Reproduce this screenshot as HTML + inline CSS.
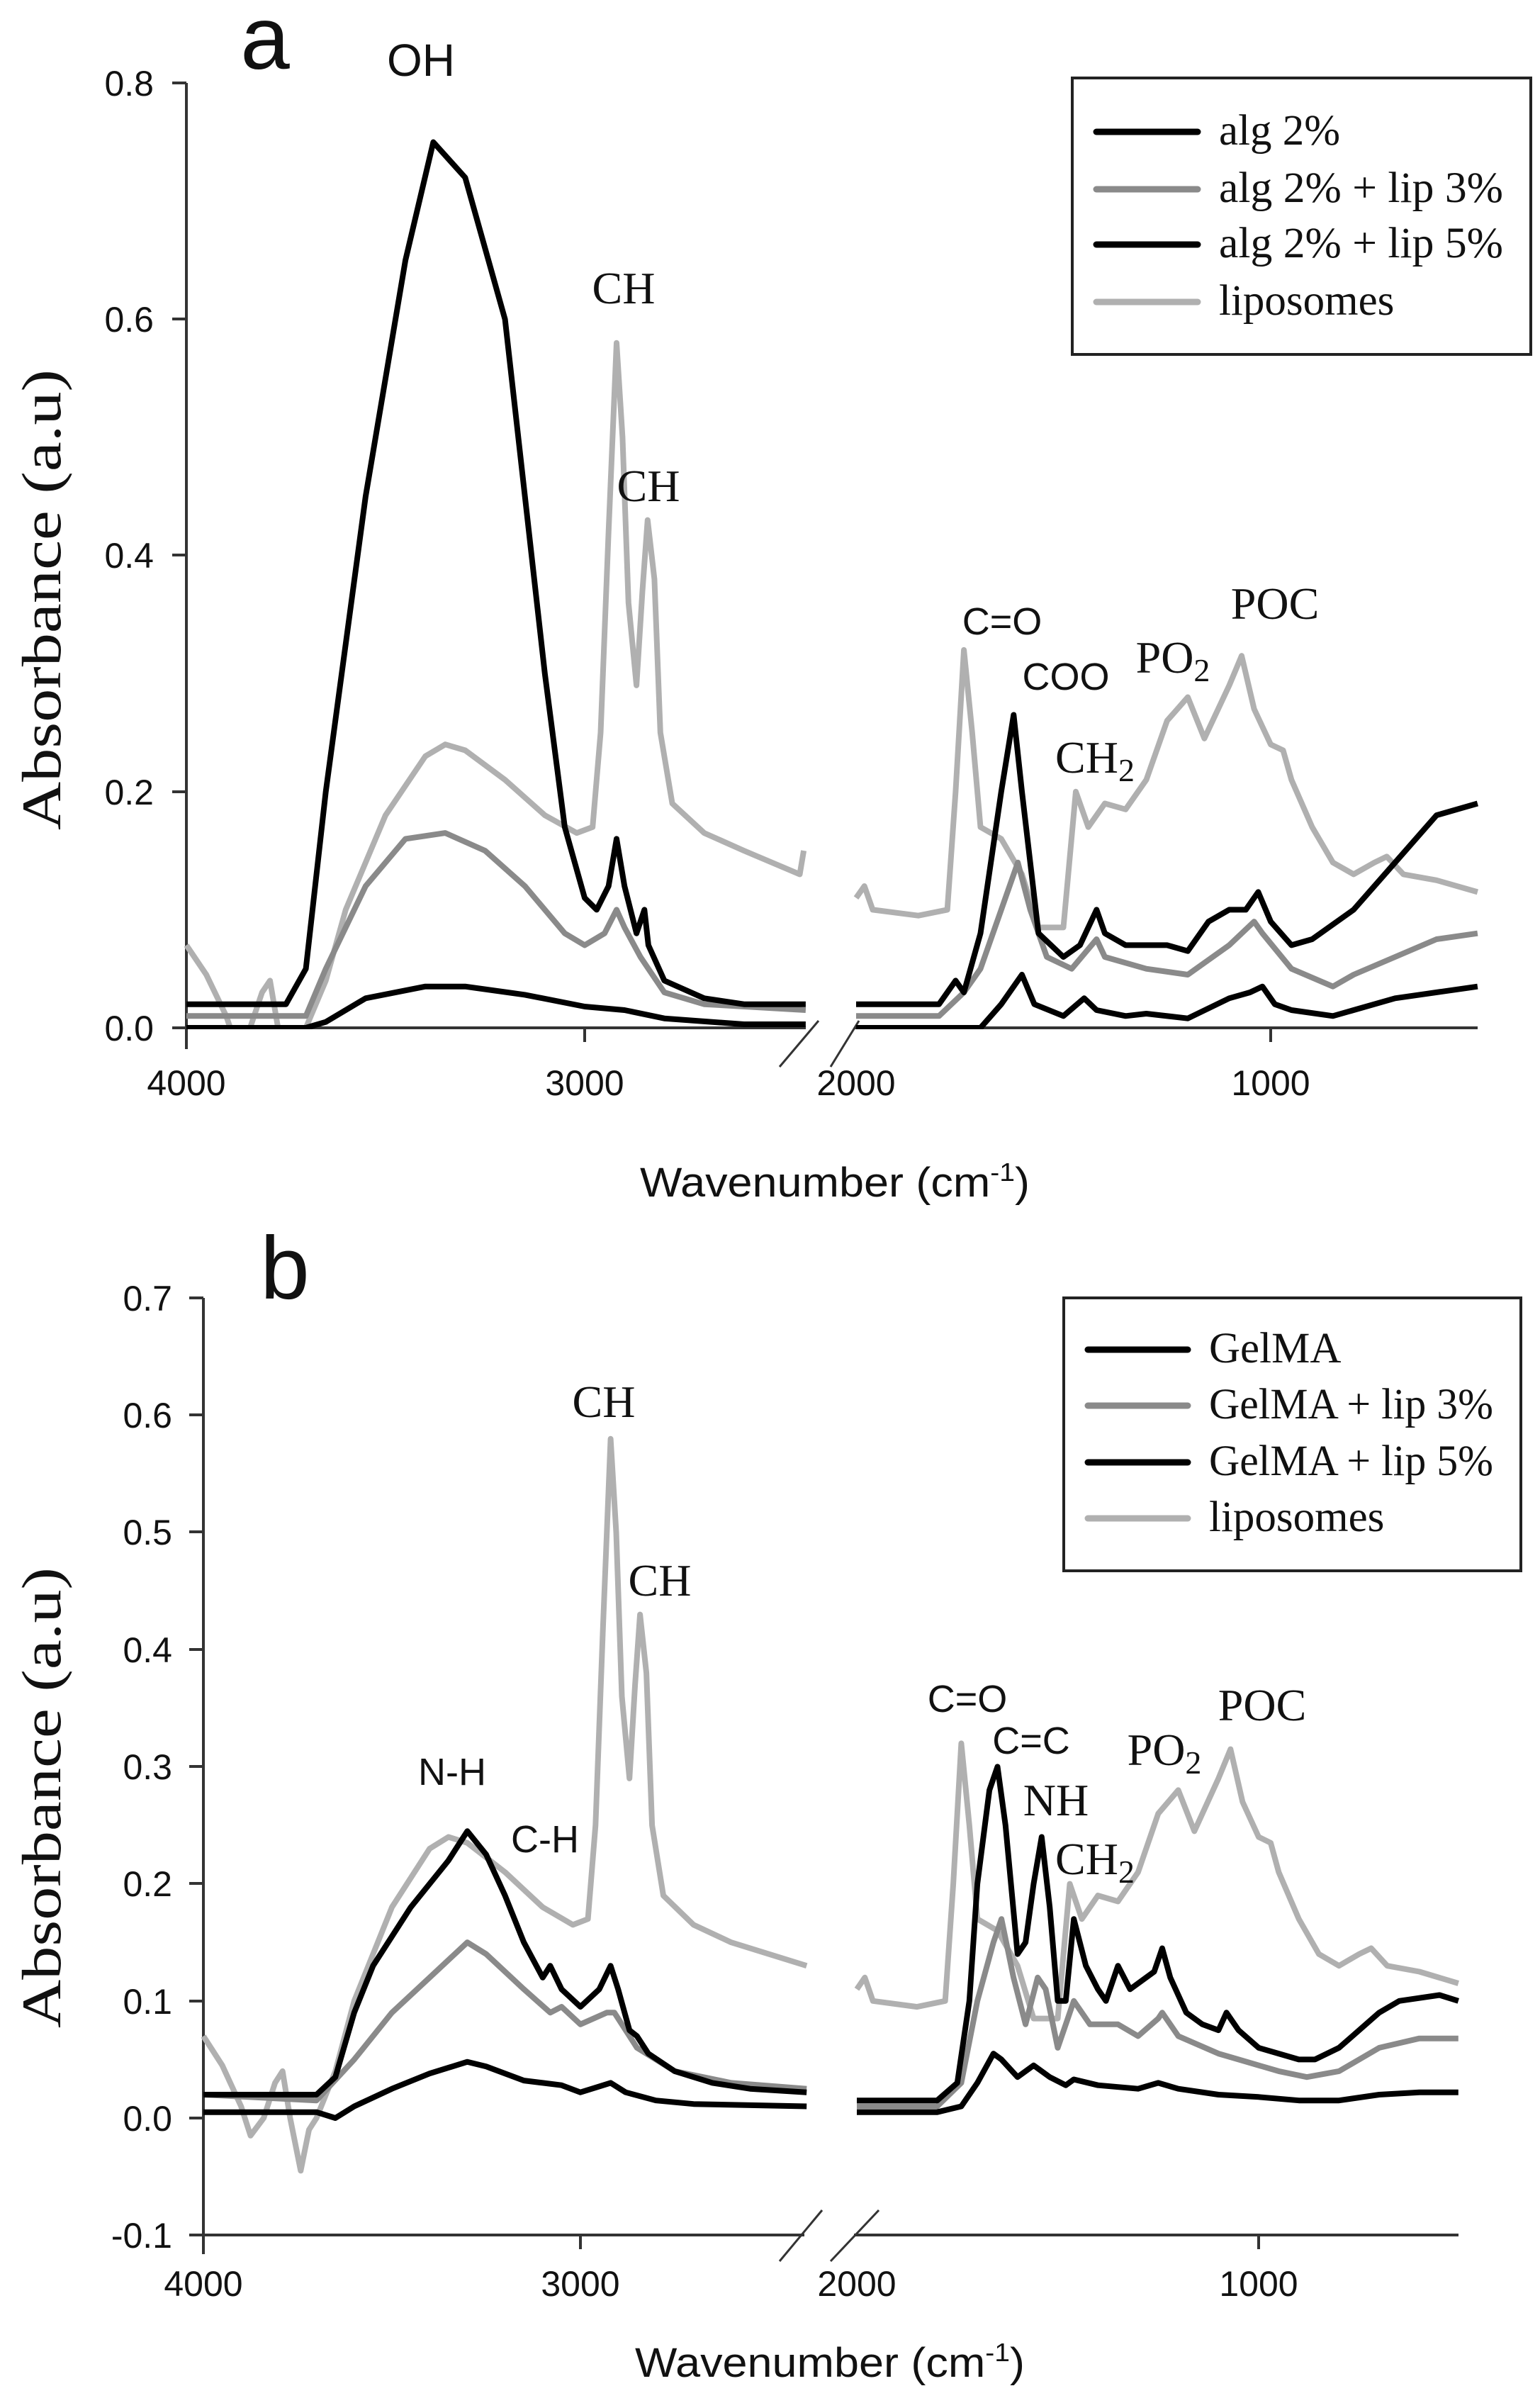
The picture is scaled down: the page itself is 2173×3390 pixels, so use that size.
<!DOCTYPE html>
<html><head><meta charset="utf-8"><style>
html,body{margin:0;padding:0;background:#fff;}
svg{display:block;}
.tk{font-family:"Liberation Sans",sans-serif;font-size:50px;fill:#111;}
.sr{font-family:"Liberation Serif",serif;fill:#111;}
.ss{font-family:"Liberation Sans",sans-serif;fill:#111;}
</style></head><body>
<svg id="s" width="2173" height="3390" viewBox="0 0 2173 3390" xmlns="http://www.w3.org/2000/svg">
<rect width="2173" height="3390" fill="#fff"/>
<defs>
<clipPath id="ca"><rect x="200" y="100" width="1950" height="1352"/></clipPath>
</defs>
<!-- Panel a -->
<g stroke="#333" stroke-width="4" fill="none">
<line x1="263" y1="117" x2="263" y2="1480"/>
<line x1="263" y1="1450" x2="1137" y2="1450"/>
<line x1="1206" y1="1450" x2="2085" y2="1450"/>
<line x1="243" y1="1450" x2="263" y2="1450"/><line x1="243" y1="1117" x2="263" y2="1117"/><line x1="243" y1="783" x2="263" y2="783"/><line x1="243" y1="450" x2="263" y2="450"/><line x1="243" y1="117" x2="263" y2="117"/>
<line x1="825" y1="1450" x2="825" y2="1470"/>
<line x1="1793" y1="1450" x2="1793" y2="1470"/>
<line x1="1100" y1="1505" x2="1155" y2="1440" stroke-width="3"/>
<line x1="1172" y1="1505" x2="1212" y2="1440" stroke-width="3"/>
</g>
<g class="tk" text-anchor="end">
<text x="217" y="1468">0.0</text><text x="217" y="1135">0.2</text><text x="217" y="801">0.4</text><text x="217" y="468">0.6</text><text x="217" y="135">0.8</text>
</g>
<g class="tk" text-anchor="middle">
<text x="263" y="1545">4000</text><text x="825" y="1545">3000</text><text x="1208" y="1545">2000</text><text x="1793" y="1545">1000</text>
</g>
<text class="ss" x="1178" y="1688" font-size="58" text-anchor="middle" textLength="550" lengthAdjust="spacingAndGlyphs">Wavenumber (cm<tspan dy="-22" font-size="36">-1</tspan><tspan dy="22">)</tspan></text>
<text class="sr" transform="translate(85,846) rotate(-90)" font-size="78" text-anchor="middle" textLength="650" lengthAdjust="spacingAndGlyphs">Absorbance (a.u)</text>
<text class="ss" x="374" y="97" font-size="125" text-anchor="middle">a</text>
<text class="ss" x="594" y="107" font-size="64" text-anchor="middle">OH</text>
<g id="ga" clip-path="url(#ca)"></g>
<g class="sr" font-size="64" text-anchor="middle">
<text x="880" y="428">CH</text><text x="915" y="707">CH</text>
<text x="1545" y="1090">CH<tspan font-size="46" dy="12">2</tspan></text>
<text x="1655" y="949">PO<tspan font-size="46" dy="12">2</tspan></text>
<text x="1799" y="873">POC</text>
</g>
<g class="ss" font-size="54" text-anchor="middle">
<text x="1414" y="895">C=O</text><text x="1504" y="973">COO</text>
</g>
<rect x="1513" y="110" width="647" height="390" fill="#fff" stroke="#222" stroke-width="4"/>
<g stroke-width="9" stroke-linecap="round">
<line x1="1547" y1="186" x2="1690" y2="186" stroke="#000"/>
<line x1="1547" y1="267" x2="1690" y2="267" stroke="#8a8a8a"/>
<line x1="1547" y1="345" x2="1690" y2="345" stroke="#000"/>
<line x1="1547" y1="426" x2="1690" y2="426" stroke="#b0b0b0"/>
</g>
<g class="sr" font-size="61">
<text x="1720" y="204">alg 2%</text>
<text x="1720" y="285" textLength="401" lengthAdjust="spacingAndGlyphs">alg 2% + lip 3%</text>
<text x="1720" y="363" textLength="401" lengthAdjust="spacingAndGlyphs">alg 2% + lip 5%</text>
<text x="1720" y="444">liposomes</text>
</g>

<!-- Panel b -->
<g stroke="#333" stroke-width="4" fill="none">
<line x1="287" y1="1831" x2="287" y2="3180"/>
<line x1="287" y1="3153" x2="1135" y2="3153"/>
<line x1="1205" y1="3153" x2="2058" y2="3153"/>
<line x1="267" y1="3153" x2="287" y2="3153"/><line x1="267" y1="2988" x2="287" y2="2988"/><line x1="267" y1="2823" x2="287" y2="2823"/><line x1="267" y1="2657" x2="287" y2="2657"/><line x1="267" y1="2492" x2="287" y2="2492"/><line x1="267" y1="2327" x2="287" y2="2327"/><line x1="267" y1="2161" x2="287" y2="2161"/><line x1="267" y1="1996" x2="287" y2="1996"/><line x1="267" y1="1831" x2="287" y2="1831"/>
<line x1="819" y1="3153" x2="819" y2="3173"/>
<line x1="1776" y1="3153" x2="1776" y2="3173"/>
<line x1="1100" y1="3190" x2="1160" y2="3118" stroke-width="3"/>
<line x1="1172" y1="3190" x2="1240" y2="3118" stroke-width="3"/>
</g>
<g class="tk" text-anchor="end">
<text x="243" y="3171">-0.1</text><text x="243" y="3006">0.0</text><text x="243" y="2841">0.1</text><text x="243" y="2675">0.2</text><text x="243" y="2510">0.3</text><text x="243" y="2345">0.4</text><text x="243" y="2179">0.5</text><text x="243" y="2014">0.6</text><text x="243" y="1849">0.7</text>
</g>
<g class="tk" text-anchor="middle">
<text x="287" y="3239">4000</text><text x="819" y="3239">3000</text><text x="1209" y="3239">2000</text><text x="1776" y="3239">1000</text>
</g>
<text class="ss" x="1171" y="3353" font-size="58" text-anchor="middle" textLength="550" lengthAdjust="spacingAndGlyphs">Wavenumber (cm<tspan dy="-22" font-size="36">-1</tspan><tspan dy="22">)</tspan></text>
<text class="sr" transform="translate(85,2536) rotate(-90)" font-size="78" text-anchor="middle" textLength="650" lengthAdjust="spacingAndGlyphs">Absorbance (a.u)</text>
<text class="ss" x="402" y="1832" font-size="125" text-anchor="middle">b</text>
<g id="gb"></g>
<g class="sr" font-size="64" text-anchor="middle">
<text x="852" y="1999">CH</text><text x="931" y="2251">CH</text>
<text x="1490" y="2561">NH</text>
<text x="1545" y="2644">CH<tspan font-size="46" dy="12">2</tspan></text>
<text x="1643" y="2490">PO<tspan font-size="46" dy="12">2</tspan></text>
<text x="1781" y="2427">POC</text>
</g>
<g class="ss" font-size="54" text-anchor="middle">
<text x="638" y="2518">N-H</text><text x="769" y="2613">C-H</text>
<text x="1365" y="2415">C=O</text><text x="1455" y="2474">C=C</text>
</g>
<rect x="1501" y="1831" width="645" height="385" fill="#fff" stroke="#222" stroke-width="4"/>
<g stroke-width="9" stroke-linecap="round">
<line x1="1535" y1="1904" x2="1676" y2="1904" stroke="#000"/>
<line x1="1535" y1="1983" x2="1676" y2="1983" stroke="#8a8a8a"/>
<line x1="1535" y1="2063" x2="1676" y2="2063" stroke="#000"/>
<line x1="1535" y1="2142" x2="1676" y2="2142" stroke="#b0b0b0"/>
</g>
<g class="sr" font-size="61">
<text x="1706" y="1922">GelMA</text>
<text x="1706" y="2001" textLength="401" lengthAdjust="spacingAndGlyphs">GelMA + lip 3%</text>
<text x="1706" y="2081" textLength="401" lengthAdjust="spacingAndGlyphs">GelMA + lip 5%</text>
<text x="1706" y="2160">liposomes</text>
</g>
</svg>
<script>
(function(){
var NS="http://www.w3.org/2000/svg";
function mk(g,pts,col,P){
  var L=pts[0],R=pts[1];
  function seg(arr,f){var d="";for(var i=0;i<arr.length;i+=2){d+=(i?"L":"M")+f(arr[i]).toFixed(1)+","+(P.y0-arr[i+1]*P.ys).toFixed(1);}return d;}
  var d=seg(L,function(w){return P.lx+(4000-w)*P.lk;})+seg(R,function(w){return P.rx+(2000-w)*P.rk;});
  var p=document.createElementNS(NS,"path");
  p.setAttribute("d",d);p.setAttribute("fill","none");p.setAttribute("stroke",col);
  p.setAttribute("stroke-width","8");p.setAttribute("stroke-linejoin","round");
  g.appendChild(p);
}
var A={lx:263,lk:0.562,rx:1208,rk:0.585,y0:1450,ys:1666};
var B={lx:287,lk:0.532,rx:1209,rk:0.567,y0:2988,ys:1652};
var lipL=[4000,0.07,3950,0.045,3900,0.01,3875,-0.015,3840,0.0,3810,0.03,3790,0.04,3770,0.0,3742,-0.045,3720,-0.01,3700,0.0,3650,0.04,3600,0.1,3500,0.18,3400,0.23,3350,0.24,3300,0.235,3200,0.21,3100,0.18,3020,0.165,2980,0.17,2960,0.25,2940,0.42,2920,0.58,2905,0.5,2890,0.36,2870,0.29,2855,0.37,2842,0.43,2825,0.38,2810,0.25,2780,0.19,2700,0.165,2600,0.15,2460,0.13,2450,0.15];
var lipR=[2000,0.11,1980,0.12,1960,0.1,1850,0.095,1780,0.1,1760,0.2,1740,0.32,1720,0.25,1700,0.17,1650,0.16,1600,0.13,1560,0.085,1500,0.085,1470,0.2,1440,0.17,1400,0.19,1350,0.185,1300,0.21,1250,0.26,1200,0.28,1160,0.245,1100,0.29,1070,0.315,1040,0.27,1000,0.24,970,0.235,950,0.21,900,0.17,850,0.14,800,0.13,750,0.14,720,0.145,680,0.13,600,0.125,501,0.115];
var ga=document.getElementById("ga");
mk(ga,[lipL,lipR],"#b0b0b0",A);
mk(ga,[[4000,0.01,3700,0.01,3650,0.05,3550,0.12,3450,0.16,3350,0.165,3250,0.15,3150,0.12,3050,0.08,3000,0.07,2950,0.08,2920,0.10,2900,0.085,2860,0.06,2840,0.05,2800,0.03,2700,0.02,2445,0.015],
 [2000,0.01,1800,0.01,1740,0.03,1700,0.05,1650,0.1,1610,0.14,1580,0.1,1540,0.06,1480,0.05,1420,0.075,1400,0.06,1300,0.05,1200,0.045,1100,0.07,1040,0.09,1020,0.08,950,0.05,850,0.035,800,0.045,700,0.06,600,0.075,501,0.08]],"#8a8a8a",A);
mk(ga,[[4000,0.0,3700,0.0,3650,0.005,3550,0.025,3400,0.035,3300,0.035,3150,0.028,3000,0.018,2900,0.015,2800,0.008,2600,0.003,2445,0.003],
 [2000,0,1700,0,1650,0.02,1600,0.045,1570,0.02,1500,0.01,1450,0.025,1420,0.015,1350,0.01,1300,0.012,1200,0.008,1100,0.025,1050,0.03,1020,0.035,990,0.02,950,0.015,850,0.01,800,0.015,700,0.025,501,0.035]],"#000",A);
mk(ga,[[4000,0.02,3750,0.02,3700,0.05,3650,0.2,3550,0.45,3450,0.65,3380,0.75,3300,0.72,3200,0.60,3150,0.45,3100,0.3,3050,0.17,3000,0.11,2970,0.10,2940,0.12,2920,0.16,2900,0.12,2870,0.08,2850,0.10,2840,0.07,2800,0.04,2700,0.025,2600,0.02,2445,0.02],
 [2000,0.02,1800,0.02,1760,0.04,1740,0.03,1700,0.08,1650,0.2,1620,0.265,1600,0.2,1560,0.08,1500,0.06,1460,0.07,1420,0.10,1400,0.08,1350,0.07,1250,0.07,1200,0.065,1150,0.09,1100,0.10,1060,0.10,1030,0.115,1000,0.09,950,0.07,900,0.075,800,0.1,700,0.14,600,0.18,501,0.19]],"#000",A);
var gb=document.getElementById("gb");
var lipLb=lipL.slice(0,lipL.length-2);lipLb[lipLb.length-2]=2400;
mk(gb,[lipLb,lipR.map(function(v,i){return i%2==0&&v==501?503:v;})],"#b0b0b0",B);
mk(gb,[[4000,0.02,3700,0.015,3600,0.05,3500,0.09,3400,0.12,3300,0.15,3250,0.14,3150,0.11,3080,0.09,3050,0.095,3000,0.08,2930,0.09,2910,0.09,2850,0.06,2750,0.04,2600,0.03,2400,0.025],
 [2000,0.01,1800,0.01,1740,0.03,1700,0.1,1660,0.15,1640,0.17,1610,0.12,1580,0.08,1550,0.12,1530,0.11,1500,0.06,1460,0.1,1420,0.08,1350,0.08,1300,0.07,1250,0.085,1240,0.09,1200,0.07,1100,0.055,1050,0.05,950,0.04,880,0.035,800,0.04,700,0.06,600,0.068,503,0.068]],"#8a8a8a",B);
mk(gb,[[4000,0.005,3700,0.005,3650,0.0,3600,0.01,3500,0.025,3400,0.038,3300,0.048,3250,0.044,3150,0.032,3100,0.03,3050,0.028,3000,0.022,2950,0.027,2920,0.03,2880,0.022,2800,0.015,2700,0.012,2400,0.01],
 [2000,0.005,1800,0.005,1740,0.01,1700,0.03,1660,0.055,1640,0.05,1600,0.035,1560,0.045,1520,0.035,1480,0.028,1460,0.033,1400,0.028,1300,0.025,1250,0.03,1200,0.025,1100,0.02,1000,0.018,900,0.015,800,0.015,700,0.02,600,0.022,503,0.022]],"#000",B);
mk(gb,[[4000,0.02,3700,0.02,3650,0.035,3600,0.09,3550,0.13,3450,0.18,3350,0.22,3300,0.245,3250,0.225,3200,0.19,3150,0.15,3100,0.12,3080,0.13,3050,0.11,3000,0.095,2950,0.11,2920,0.13,2900,0.11,2870,0.075,2850,0.07,2820,0.055,2750,0.04,2650,0.03,2550,0.025,2400,0.022],
 [2000,0.015,1800,0.015,1750,0.03,1720,0.1,1700,0.2,1670,0.28,1650,0.30,1630,0.25,1600,0.14,1580,0.15,1560,0.2,1540,0.24,1520,0.18,1500,0.1,1480,0.1,1460,0.17,1430,0.13,1400,0.11,1380,0.1,1350,0.13,1320,0.11,1260,0.125,1240,0.145,1220,0.12,1180,0.09,1140,0.08,1100,0.075,1080,0.09,1050,0.075,1000,0.06,950,0.055,900,0.05,860,0.05,800,0.06,700,0.09,650,0.1,550,0.105,503,0.1]],"#000",B);
})();
</script>
</body></html>
